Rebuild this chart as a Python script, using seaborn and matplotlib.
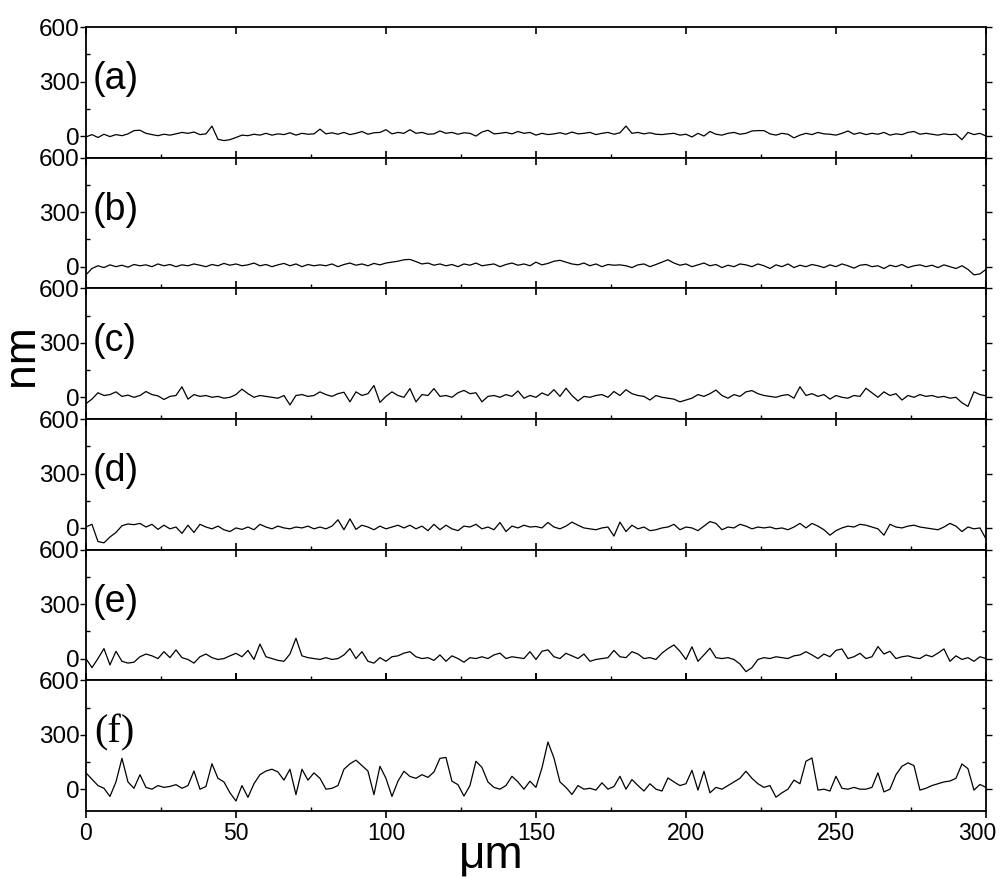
import matplotlib
matplotlib.use("Agg")
import matplotlib.pyplot as plt
import matplotlib.transforms as mtransforms
import seaborn as sns
import numpy as np

# surface profiles, sampled every 2 um from 0 to 300 um (heights in nm)
x_um = np.arange(0, 301, 2)

profile_a = [
    -5, 8, -8, 10, -3, 8, 2, 12, 30, 32,
    15, 8, 2, 10, 5, 12, 20, 15, 22, 8,
    12, 55, -18, -25, -20, -8, 5, 2, 10, 5,
    15, 5, 12, 8, 18, 5, 15, 10, 12, 38,
    12, 18, 10, 20, 8, 15, 25, 10, 18, 20,
    35, 12, 20, 15, 35, 15, 20, 10, 12, 28,
    15, 20, 10, 18, 15, 0, 22, 32, 12, 15,
    20, 12, 25, 15, 20, 5, 15, 8, 12, 18,
    10, 22, 12, 15, 20, 8, 15, 20, 10, 18,
    55, 15, 20, 12, 18, 10, 8, 12, 15, 5,
    10, -5, 15, 0, 25, 10, 5, 15, 20, 10,
    15, 28, 30, 30, 12, 5, 15, 10, -10, 5,
    15, 8, 20, 12, 10, 5, 15, 28, 10, 18,
    8, 15, 10, 20, 5, 12, 8, 20, 25, 10,
    15, 10, 5, 12, 8, 10, -20, 20, 8, 15,
    0,
]

profile_b = [
    -45, -10, 5, -5, 10, 0, 8, -3, 12, 5,
    10, 0, 15, 5, 12, 0, 10, 5, 15, 8,
    0, 12, 5, 18, 8, 15, 5, 10, 20, 5,
    12, 0, 10, 18, 5, 15, 0, 12, 5, 10,
    5, 15, 0, 12, 20, 8, 15, 5, 18, 10,
    20, 25, 30, 38, 40, 28, 15, 20, 8, 15,
    5, 12, 0, 15, 8, 20, 5, 10, 15, 0,
    12, 20, 8, 15, 5, 25, 10, 18, 30, 35,
    25, 15, 10, 20, 5, 15, 0, 12, 8, 10,
    5, -5, 10, 15, 0, 12, 25, 38, 20, 8,
    15, 0, 10, 20, 5, 12, -5, 8, 0, 15,
    10, 0, 15, 5, -10, 10, 0, 15, -5, 8,
    0, 12, 5, -5, 10, 0, 15, 5, -8, 8,
    12, 0, 5, -10, 8, 0, 12, -5, 5, 10,
    0, 8, -5, 10, 0, -10, 5, -15, -45, -40,
    -15,
]

profile_c = [
    -35, -10, 25, 10, 15, 30, 5, 12, 0, 10,
    32, 15, 8, -12, 5, 10, 58, -10, 15, 5,
    10, 0, 5, -5, 0, 15, 45, 20, 0, 10,
    5, 0, -5, 10, -42, 10, 15, 5, 10, 30,
    15, 5, 20, 28, -25, 30, 10, 20, 65, -28,
    5, 30, 10, 0, 48, -25, 15, 10, 48, 5,
    10, 0, 25, 38, 20, 25, -25, 5, 10, 0,
    15, 5, 35, -5, 10, 0, 24, 10, 42, 5,
    50, 10, -20, 5, 0, 10, 15, 0, 32, 10,
    42, 20, 10, 5, -15, 10, 0, -5, -10, -25,
    -15, -5, 15, 5, 20, 40, 10, -5, 15, 5,
    30, 37, 20, 10, 5, 0, 10, 15, -5, 58,
    10, 20, 5, 15, -10, 10, 0, -5, 10, 5,
    50, 25, 0, 30, 10, 20, -15, 10, 0, 15,
    5, 10, 0, 5, -5, 0, -30, -50, 30, 15,
    8,
]

profile_d = [
    5, 20, -75, -82, -50, -25, 12, 22, 18, 25,
    5, 20, -8, 15, -5, 5, -30, 15, -25, 20,
    5, -5, 10, -10, -20, 0, -8, 5, -10, 20,
    5, -5, 10, 0, -5, 5, 0, 10, -5, 5,
    -5, 10, 45, -10, 50, -8, 15, 5, -10, 10,
    -5, 5, 15, 0, 15, -5, 10, -15, 20, -10,
    15, -5, -15, 10, 5, 20, -5, 5, -10, 30,
    -20, 10, 0, 15, 5, 8, 0, 30, 5, -5,
    10, 32, 15, 0, -5, -10, 0, 5, -45, 32,
    -20, 15, -5, 5, -15, -10, 0, 5, 20, -10,
    5, 0, -15, 10, 35, 25, -10, 5, 0, 20,
    10, -5, 5, 0, 5, -5, 0, -10, 5, 25,
    0, 25, 10, -10, -40, -15, 0, 10, 5, 20,
    15, 5, -5, -40, 20, 5, 0, 10, 15, 5,
    0, -5, -10, 5, 25, 10, -20, 5, -5, 0,
    -60,
]

profile_e = [
    0, -50, 0, 55, -35, 40, -15, -25, -20, 10,
    25, 15, 0, 38, 5, 48, 5, -5, -25, 10,
    25, 5, -5, 0, 15, 29, 10, 45, -5, 80,
    10, 0, -10, -15, 25, 112, 15, 5, 0, -5,
    5, -5, 0, 20, 55, 0, 38, -15, -25, 5,
    -15, 10, 15, 30, 38, 10, 0, 5, -10, 20,
    -15, 15, 0, -20, 5, 0, 10, 0, 20, 30,
    0, 10, 5, 0, 38, -5, 40, 48, 10, 0,
    29, 15, 0, 25, -15, -5, 0, 5, 45, 10,
    5, 38, 25, 0, 5, -5, 30, 55, 75, 40,
    -5, 65, -15, 20, 57, 5, 0, 5, -5, -30,
    -72, -50, -5, 5, 0, 10, 5, 0, 15, 20,
    38, 20, 0, 25, 10, 45, 53, 0, 10, 29,
    0, 10, 66, 25, 40, 0, 10, 15, 5, 0,
    20, 10, 30, 53, -15, 15, -5, 5, -15, 10,
    0,
]

profile_f = [
    90, 55, 20, 5, -40, 40, 170, 40, 5, 80,
    10, 0, 20, 10, 15, 25, 5, 20, 100, 0,
    15, 140, 60, 40, -20, -65, 20, -45, 30, 80,
    100, 110, 95, 50, 110, -30, 110, 50, 90, 60,
    0, 5, 20, 110, 140, 160, 130, 100, -30, 126,
    60, -40, 44, 99, 70, 60, 80, 65, 95, 170,
    175, 44, 25, -38, 20, 154, 120, 40, 10, 0,
    20, 71, 40, 0, 44, 10, 117, 260, 172, 40,
    10, -29, 20, 0, 5, -5, 35, 0, 15, 71,
    0, 53, 20, -10, 30, 0, -10, 62, 40, 20,
    30, 104, -5, 99, -20, 10, 0, 20, 40, 60,
    99, 60, 30, 10, 20, -44, -20, 0, 50, 30,
    154, 172, -5, 0, -10, 71, 5, 0, 10, 0,
    0, 10, 90, -15, 0, 80, 126, 145, 130, -5,
    5, 20, 30, 40, 45, 60, 139, 113, -5, 26,
    10,
]

profiles = [profile_a, profile_b, profile_c, profile_d, profile_e, profile_f]
panel_labels = ["(a)", "(b)", "(c)", "(d)", "(e)", "(f)"]
y_ticks = [0, 300, 600]
x_ticks = [0, 50, 100, 150, 200, 250, 300]

sns.set_style("ticks")
plt.rcParams["font.family"] = ["Liberation Sans", "DejaVu Sans"]
plt.rcParams["text.color"] = "black"
plt.rcParams["xtick.color"] = "black"
plt.rcParams["ytick.color"] = "black"
plt.rcParams["axes.edgecolor"] = "black"

fig, axes = plt.subplots(6, 1, figsize=(10.03, 8.77), dpi=100, sharex=True)
fig.subplots_adjust(left=0.0857, right=0.983, top=0.969, bottom=0.0753, hspace=0)

for ax, prof, lab in zip(axes, profiles, panel_labels):
    assert len(prof) == len(x_um)
    sns.lineplot(x=x_um, y=prof, ax=ax, color="black", linewidth=0.9,
                 estimator=None)
    ax.set_xlim(0, 300)
    ax.set_ylim(-120, 600)
    ax.set_yticks(y_ticks)
    ax.set_yticks([150, 450], minor=True)
    ax.set_xticks(x_ticks)
    ax.set_xticks([25, 75, 125, 175, 225, 275], minor=True)
    ax.tick_params(axis="y", which="major", direction="out", length=4,
                   width=1, labelsize=17.5, pad=0.5, right=True)
    ax.tick_params(axis="y", which="minor", direction="in", length=3,
                   width=1, right=True)
    ax.tick_params(axis="x", which="major", direction="in", length=5,
                   width=1.2, top=True, labelsize=16.5)
    ax.tick_params(axis="x", which="minor", direction="in", length=3,
                   width=1)
    for sp in ax.spines.values():
        sp.set_linewidth(1.3)
        sp.set_color("black")
    ax.set_xlabel("")
    ax.set_ylabel("")
    if lab == "(f)":
        ax.text(0.009, 0.6, lab, transform=ax.transAxes, fontsize=29,
                family=["Liberation Serif"], va="center", ha="left")
    else:
        ax.text(0.007, 0.6, lab, transform=ax.transAxes, fontsize=27,
                family=["Liberation Sans"], va="center", ha="left")

axes[-1].tick_params(axis="x", which="major", direction="out", length=5, pad=3)
axes[-1].set_xticklabels([str(t) for t in x_ticks])
# nudge the last x label left so it stays inside the canvas
last = axes[-1].get_xticklabels()[-1]
last.set_transform(last.get_transform() +
                   mtransforms.ScaledTranslation(-6 / 72, 0, fig.dpi_scale_trans))

fig.text(0.021, 0.595, "nm", rotation=90, fontsize=32, ha="center", va="center")
fig.text(0.49, 0.024, "μm", fontsize=33, ha="center", va="center")

fig.savefig("out.png", dpi=100)
plt.close(fig)
